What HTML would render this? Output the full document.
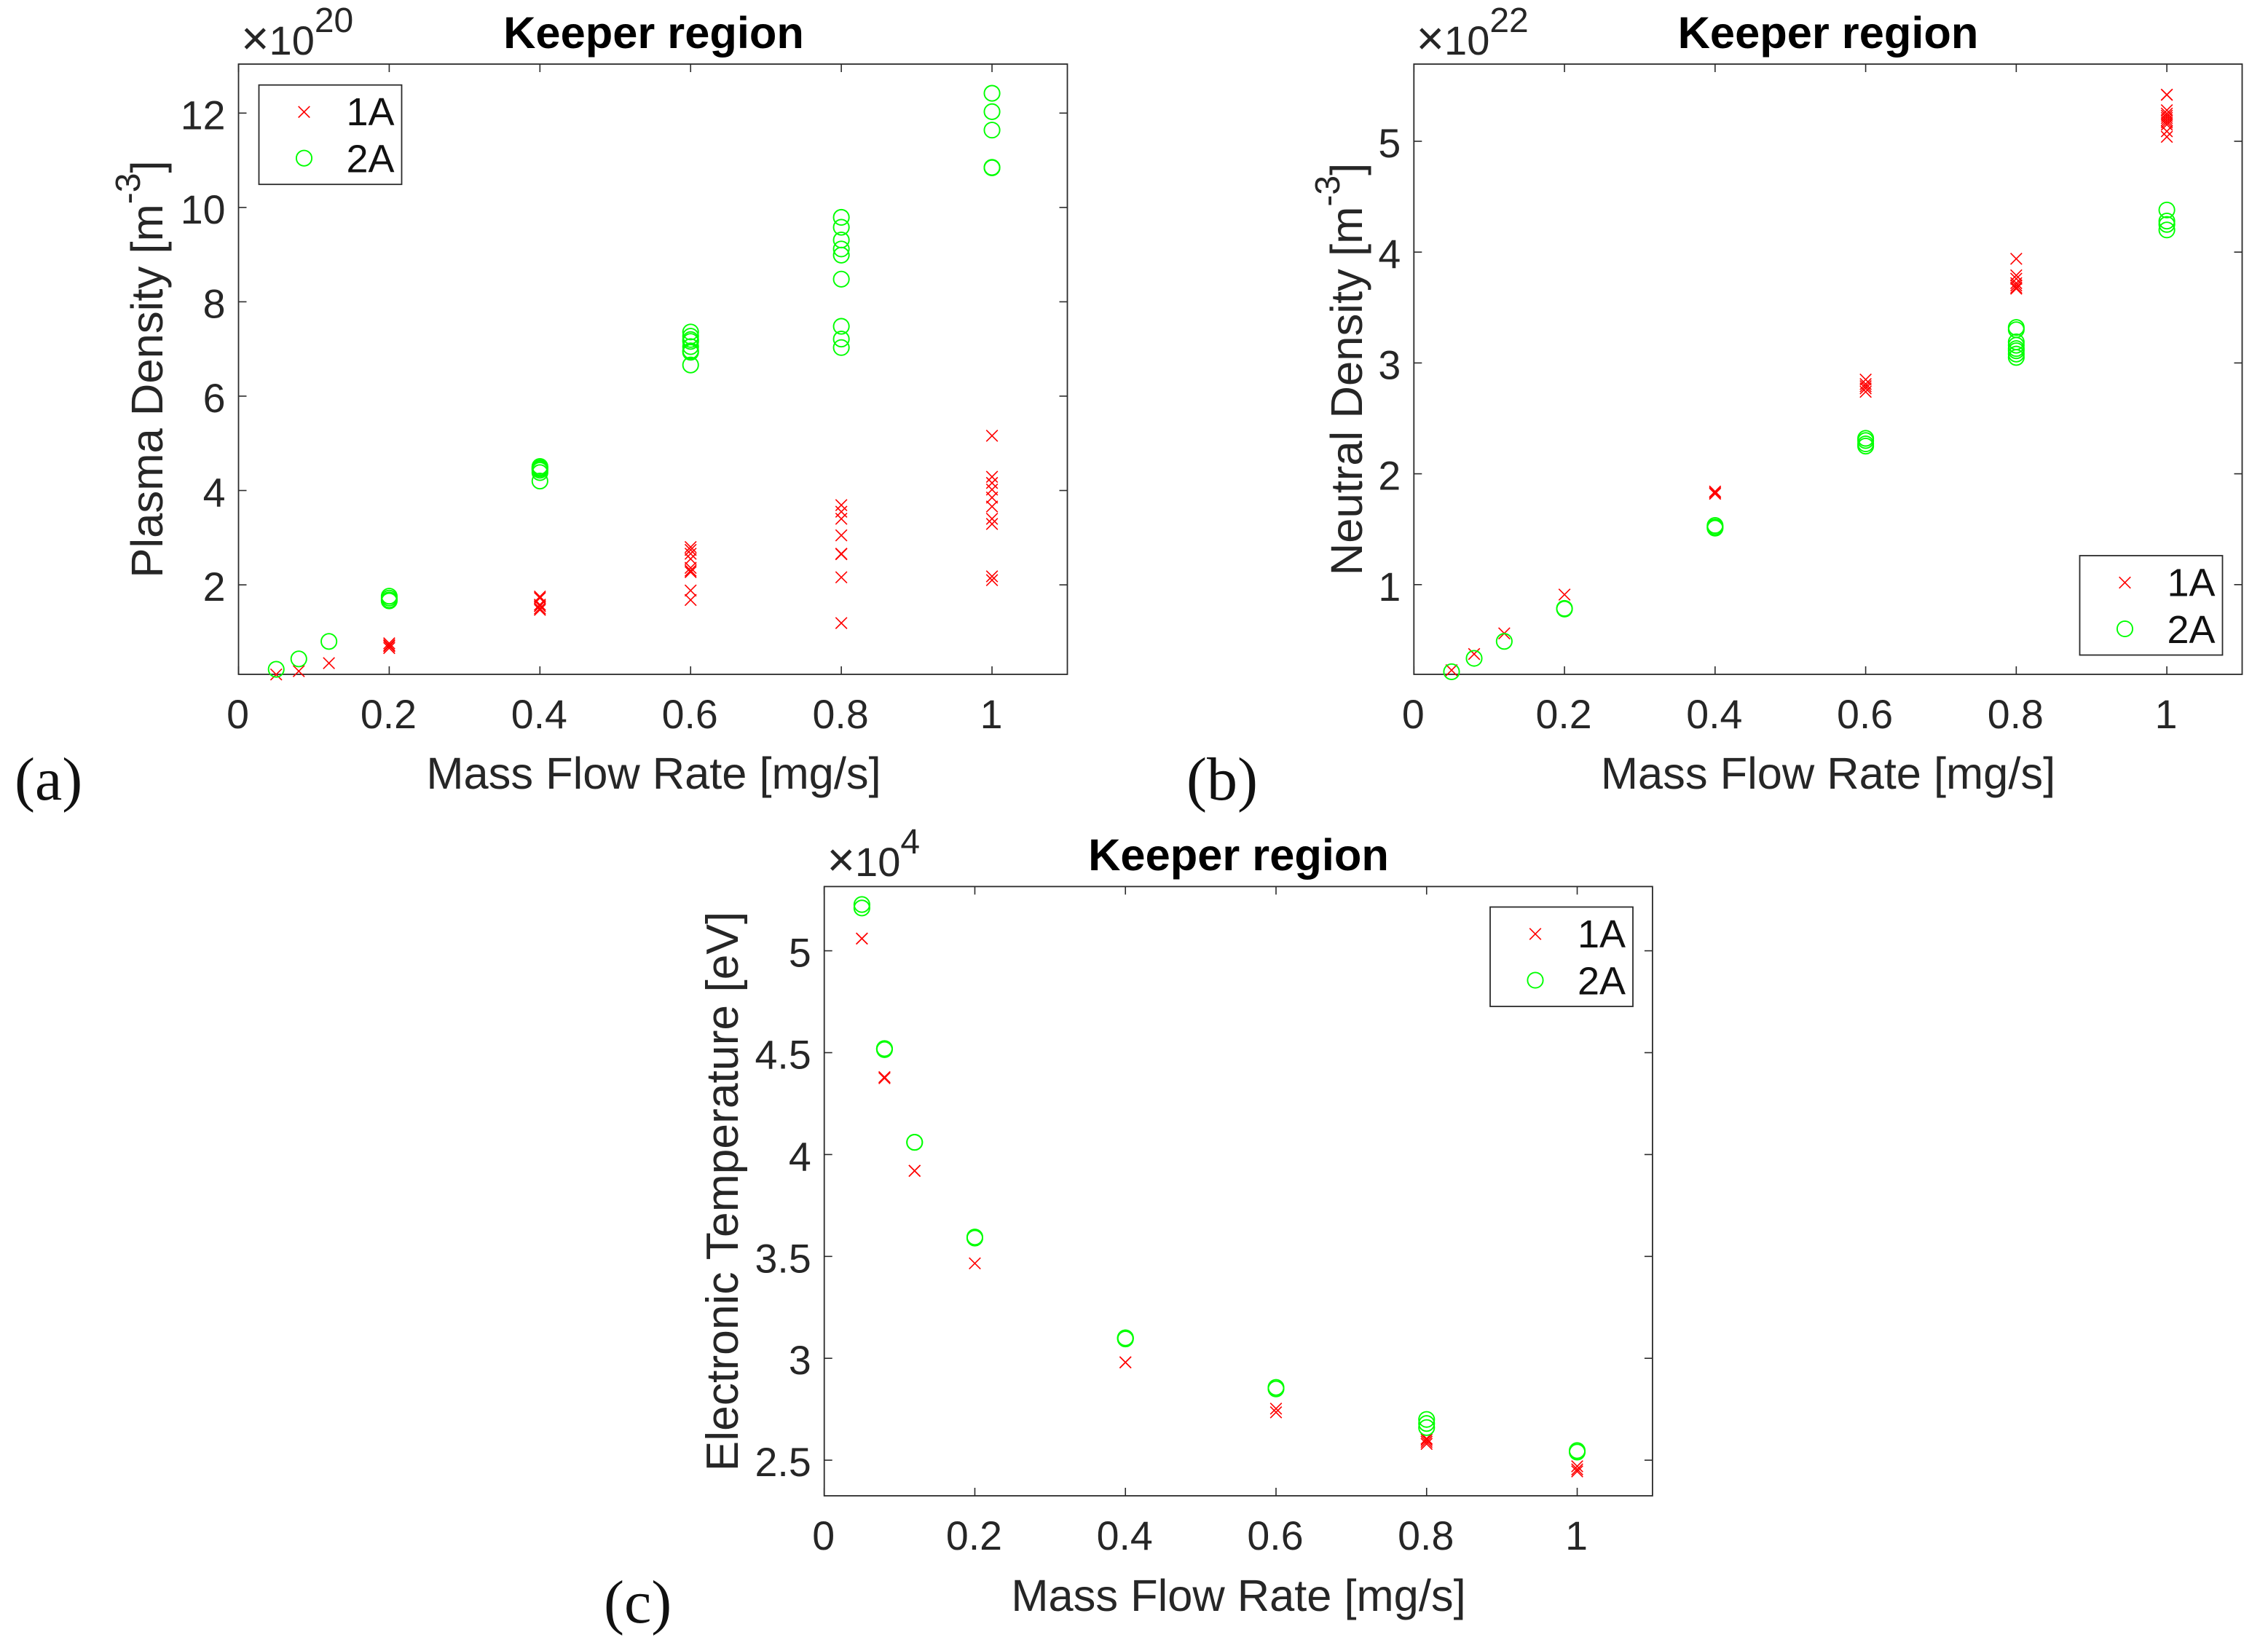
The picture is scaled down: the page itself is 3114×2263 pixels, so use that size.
<!DOCTYPE html>
<html lang="en">
<head>
<meta charset="utf-8">
<title>Keeper region charts</title>
<style>
html,body{margin:0;padding:0;background:#fff;}
svg{display:block;}
text{font-family:"Liberation Sans",Arial,sans-serif;fill:#262626;}
.title{font-size:61.4px;font-weight:bold;fill:#000;text-anchor:middle;}
.xlabel{font-size:61.4px;text-anchor:middle;}
.ylabel{font-size:61.6px;text-anchor:middle;}
.ylabel-long{font-size:62.4px;text-anchor:middle;}
.sup{font-size:48px;}
.tick{font-size:55.5px;}
.mult{font-size:56px;}
.mult-x{font-size:66px;}
.letter{font-family:"Liberation Serif",serif;font-size:84px;fill:#111;}
.legend-text{font-size:54px;fill:#111;text-anchor:end;}
</style>
</head>
<body>
<svg id="figure" xmlns="http://www.w3.org/2000/svg" width="3114" height="2263" viewBox="0 0 3114 2263">
  <rect x="0" y="0" width="3114" height="2263" fill="#ffffff"/>

  <g id="panel-a">
    <g id="plot-a"></g>
    <text class="title" x="897.5" y="66">Keeper region</text>
    <text class="xlabel" x="897.5" y="1083">Mass Flow Rate [mg/s]</text>
    <text class="ylabel" transform="translate(223,507) rotate(-90)">Plasma Density [m<tspan class="sup" dy="-31">-3</tspan><tspan dy="31">]</tspan></text>
    <text class="mult" x="331" y="75"><tspan class="mult-x">×</tspan>10<tspan class="sup" dy="-31">20</tspan></text>
    <text class="letter" x="20" y="1098">(a)</text>
  </g>

  <g id="panel-b">
    <g id="plot-b"></g>
    <text class="title" x="2510" y="66">Keeper region</text>
    <text class="xlabel" x="2510" y="1083">Mass Flow Rate [mg/s]</text>
    <text class="ylabel" transform="translate(1870,507) rotate(-90)">Neutral Density [m<tspan class="sup" dy="-31">-3</tspan><tspan dy="31">]</tspan></text>
    <text class="mult" x="1944.5" y="75"><tspan class="mult-x">×</tspan>10<tspan class="sup" dy="-31">22</tspan></text>
    <text class="letter" x="1629" y="1098">(b)</text>
  </g>

  <g id="panel-c">
    <g id="plot-c"></g>
    <text class="title" x="1700.5" y="1195">Keeper region</text>
    <text class="xlabel" x="1700.5" y="2212">Mass Flow Rate [mg/s]</text>
    <text class="ylabel-long" transform="translate(1013,1636) rotate(-90)">Electronic Temperature [eV]</text>
    <text class="mult" x="1135.5" y="1203"><tspan class="mult-x">×</tspan>10<tspan class="sup" dy="-31">4</tspan></text>
    <text class="letter" x="829" y="2228">(c)</text>
  </g>
</svg>

<script>
// Shared category values and tick labels
const massFlowRates = [0.05, 0.08, 0.12, 0.2, 0.4, 0.6, 0.8, 1];
const xTickValues = [0, 0.2, 0.4, 0.6, 0.8, 1];
const xTickLabels = ["0", "0.2", "0.4", "0.6", "0.8", "1"];

// Panel (a): plasma density, ×10^20 m^-3, readings per mass flow rate
const plasmaDensity1A = [
  [0.10], [0.17], [0.34],
  [0.76, 0.72, 0.70, 0.66],
  [1.75, 1.72, 1.58, 1.55, 1.50, 1.47],
  [2.80, 2.74, 2.66, 2.55, 2.36, 2.30, 2.27, 1.88, 1.68],
  [3.69, 3.55, 3.40, 3.05, 2.66, 2.65, 2.16, 1.19],
  [5.16, 4.29, 4.16, 4.02, 3.85, 3.66, 3.40, 3.29, 2.18, 2.10]
];
const plasmaDensity2A = [
  [0.21], [0.43], [0.80],
  [1.76, 1.72, 1.68, 1.66],
  [4.51, 4.48, 4.46, 4.43, 4.38, 4.20],
  [7.36, 7.27, 7.20, 7.16, 7.05, 6.96, 6.93, 6.66],
  [9.79, 9.58, 9.31, 9.12, 8.99, 8.48, 7.48, 7.21, 7.03],
  [12.42, 12.03, 11.64, 10.85, 10.84]
];
const plasmaTickValues = [2, 4, 6, 8, 10, 12];
const plasmaTickLabels = ["2", "4", "6", "8", "10", "12"];

// Panel (b): neutral density, ×10^22 m^-3
const neutralDensity1A = [
  [0.228], [0.374], [0.56], [0.91],
  [1.84, 1.83, 1.82],
  [2.85, 2.81, 2.79, 2.77, 2.74],
  [3.94, 3.79, 3.76, 3.72, 3.70, 3.68, 3.67],
  [5.42, 5.42, 5.28, 5.25, 5.23, 5.21, 5.19, 5.17, 5.15, 5.09, 5.04]
];
const neutralDensity2A = [
  [0.214], [0.335], [0.488], [0.786, 0.78],
  [1.534, 1.52, 1.51],
  [2.32, 2.30, 2.27, 2.25],
  [3.32, 3.30, 3.19, 3.16, 3.13, 3.11, 3.08, 3.05],
  [4.38, 4.28, 4.25, 4.20]
];
const neutralTickValues = [1, 2, 3, 4, 5];
const neutralTickLabels = ["1", "2", "3", "4", "5"];

// Panel (c): electronic temperature, ×10^4
const temperature1A = [
  [5.06, 5.06], [4.38, 4.375], [3.92, 3.92], [3.466],
  [2.98, 2.98],
  [2.753, 2.735],
  [2.606, 2.60, 2.59, 2.58],
  [2.47, 2.455, 2.445]
];
const temperature2A = [
  [5.227, 5.21], [4.52, 4.52, 4.515], [4.06, 4.06], [3.595, 3.59],
  [3.10, 3.10, 3.095],
  [2.857, 2.85],
  [2.70, 2.68, 2.66],
  [2.547, 2.54]
];
const temperatureTickValues = [2.5, 3, 3.5, 4, 4.5, 5];
const temperatureTickLabels = ["2.5", "3", "3.5", "4", "4.5", "5"];

const seriesNames = ["1A", "2A"];

const NS = "http://www.w3.org/2000/svg";
const TICK_LEN = 11;
const AXIS_COLOR = "#2b2b2b";

function svgEl(tag, parent) {
  const el = document.createElementNS(NS, tag);
  parent.appendChild(el);
  return el;
}

function drawSegment(parent, x1, y1, x2, y2, color, width, name) {
  const el = svgEl("line", parent);
  
  
  el.setAttribute("x1", x1);
  el.setAttribute("y1", y1);
  el.setAttribute("x2", x2);
  el.setAttribute("y2", y2);
  el.setAttribute("stroke", color);
  el.setAttribute("stroke-width", width);
  return el;
}

function drawCross(parent, cx, cy, name) {
  const g = svgEl("g", parent);
  
  
  const h = 7.8;
  const a = svgEl("line", g);
  a.setAttribute("x1", cx - h);
  a.setAttribute("y1", cy - h);
  a.setAttribute("x2", cx + h);
  a.setAttribute("y2", cy + h);
  const b = svgEl("line", g);
  b.setAttribute("x1", cx - h);
  b.setAttribute("y1", cy + h);
  b.setAttribute("x2", cx + h);
  b.setAttribute("y2", cy - h);
  g.setAttribute("stroke", "#ff0000");
  g.setAttribute("stroke-width", "1.6");
}

function drawCircle(parent, cx, cy, name) {
  const el = svgEl("circle", parent);
  
  
  el.setAttribute("cx", cx);
  el.setAttribute("cy", cy);
  el.setAttribute("r", 10.6);
  el.setAttribute("fill", "none");
  el.setAttribute("stroke", "#00ff00");
  el.setAttribute("stroke-width", "1.9");
}

function drawPanel(cfg) {
  const root = document.getElementById(cfg.id);
  const xScale = v => cfg.left + (v - cfg.xMin) / (cfg.xMax - cfg.xMin) * (cfg.right - cfg.left);
  const yScale = v => cfg.yAt1 + (v - cfg.yRef) * -cfg.yUnit;

  const frame = svgEl("rect", root);
  
  
  frame.setAttribute("x", cfg.left);
  frame.setAttribute("y", cfg.top);
  frame.setAttribute("width", cfg.right - cfg.left);
  frame.setAttribute("height", cfg.bottom - cfg.top);
  frame.setAttribute("fill", "none");
  frame.setAttribute("stroke", AXIS_COLOR);
  frame.setAttribute("stroke-width", "1.8");

  cfg.xTicks.forEach((v, i) => {
    const x = xScale(v);
    drawSegment(root, x, cfg.bottom, x, cfg.bottom - TICK_LEN, AXIS_COLOR, 1.6, "x-tick-bottom");
    drawSegment(root, x, cfg.top, x, cfg.top + TICK_LEN, AXIS_COLOR, 1.6, "x-tick-top");
    const t = svgEl("text", root);
    
    
    t.setAttribute("class", "tick");
    t.setAttribute("x", x - 1);
    t.setAttribute("y", cfg.bottom + 74);
    t.setAttribute("text-anchor", "middle");
    t.textContent = cfg.xLabels[i];
  });

  cfg.yTicks.forEach((v, i) => {
    const y = yScale(v);
    drawSegment(root, cfg.left, y, cfg.left + TICK_LEN, y, AXIS_COLOR, 1.6, "y-tick-left");
    drawSegment(root, cfg.right, y, cfg.right - TICK_LEN, y, AXIS_COLOR, 1.6, "y-tick-right");
    const t = svgEl("text", root);
    
    
    t.setAttribute("class", "tick");
    t.setAttribute("x", cfg.left - 18);
    t.setAttribute("y", y + 22);
    t.setAttribute("text-anchor", "end");
    t.textContent = cfg.yLabels[i];
  });

  cfg.series1.forEach((vals, i) => {
    vals.forEach(v => {
      drawCross(root, xScale(cfg.categories[i]), yScale(v), "point-1a");
    });
  });
  cfg.series2.forEach((vals, i) => {
    vals.forEach(v => {
      drawCircle(root, xScale(cfg.categories[i]), yScale(v), "point-2a");
    });
  });

  const lg = svgEl("g", root);
  
  
  const box = svgEl("rect", lg);
  
  
  box.setAttribute("x", cfg.legend.x);
  box.setAttribute("y", cfg.legend.y);
  box.setAttribute("width", 196);
  box.setAttribute("height", 136.5);
  box.setAttribute("fill", "#ffffff");
  box.setAttribute("stroke", AXIS_COLOR);
  box.setAttribute("stroke-width", "1.8");
  drawCross(lg, cfg.legend.x + 62, cfg.legend.y + 37, "legend-marker-1a");
  drawCircle(lg, cfg.legend.x + 62, cfg.legend.y + 100.5, "legend-marker-2a");
  seriesNames.forEach((name, i) => {
    const t = svgEl("text", lg);
    
    
    t.setAttribute("class", "legend-text");
    t.setAttribute("x", cfg.legend.x + 186);
    t.setAttribute("y", cfg.legend.y + 55.5 + i * 64.5);
    t.textContent = name;
  });
}

drawPanel({
  id: "plot-a", left: 327.5, right: 1465.5, top: 88, bottom: 926,
  xMin: 0, xMax: 1.1, yAt1: 155.3, yRef: 12, yUnit: 64.78,
  categories: massFlowRates, xTicks: xTickValues, xLabels: xTickLabels,
  yTicks: plasmaTickValues, yLabels: plasmaTickLabels,
  series1: plasmaDensity1A, series2: plasmaDensity2A,
  legend: { x: 355.5, y: 116.7 }
});
drawPanel({
  id: "plot-b", left: 1941.3, right: 3078.5, top: 88, bottom: 926,
  xMin: 0, xMax: 1.1, yAt1: 802.8, yRef: 1, yUnit: 152.2,
  categories: massFlowRates, xTicks: xTickValues, xLabels: xTickLabels,
  yTicks: neutralTickValues, yLabels: neutralTickLabels,
  series1: neutralDensity1A, series2: neutralDensity2A,
  legend: { x: 2855.5, y: 763 }
});
drawPanel({
  id: "plot-c", left: 1131.7, right: 2268.9, top: 1217.4, bottom: 2054,
  xMin: 0, xMax: 1.1, yAt1: 1305.6, yRef: 5, yUnit: 279.8,
  categories: massFlowRates, xTicks: xTickValues, xLabels: xTickLabels,
  yTicks: temperatureTickValues, yLabels: temperatureTickLabels,
  series1: temperature1A, series2: temperature2A,
  legend: { x: 2046, y: 1245.5 }
});
</script>
</body>
</html>
